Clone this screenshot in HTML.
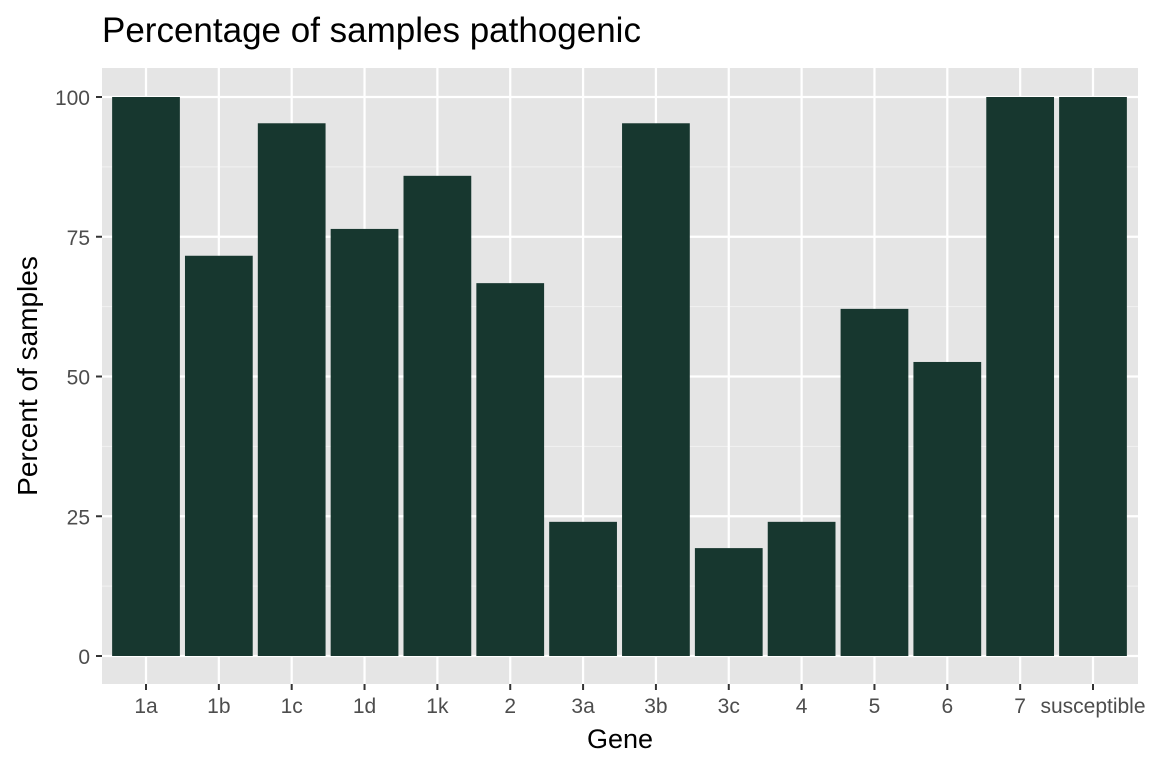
<!DOCTYPE html>
<html><head><meta charset="utf-8"><style>
body{margin:0;background:#fff;}
svg text{font-family:"Liberation Sans",Arial,sans-serif;}
</style></head><body>
<svg id="c" width="1152" height="768" xmlns="http://www.w3.org/2000/svg"></svg>
<script>
const categories=["1a","1b","1c","1d","1k","2","3a","3b","3c","4","5","6","7","susceptible"];
const values=[100,71.6,95.3,76.4,85.9,66.7,24,95.3,19.3,24,62.1,52.6,100,100];
const yTicks=[0,25,50,75,100];
const NS="http://www.w3.org/2000/svg";
const svg=document.getElementById('c');
const pl=102,pr=1138,pt=68,pb=684;
const y=v=>656-v*(656-97)/100;
const step=(1093-146)/13;
const x=i=>146+i*step;
function mk(t,a,p){const e=document.createElementNS(NS,t);for(const k in a)e.setAttribute(k,a[k]);(p||svg).appendChild(e);return e;}
const panel=mk('rect',{x:pl,y:pt,width:pr-pl,height:pb-pt,fill:'#e5e5e5'});


for(let k=0;k<yTicks.length-1;k++){const m=(yTicks[k]+yTicks[k+1])/2;
 const l=mk('line',{x1:pl,x2:pr,y1:y(m),y2:y(m),stroke:'#f2f2f2','stroke-width':1});
 
 }
yTicks.forEach(v=>{const l=mk('line',{x1:pl,x2:pr,y1:y(v),y2:y(v),stroke:'#fff','stroke-width':2.2});
 
 
 const tk=mk('line',{x1:pl-6,x2:pl,y1:y(v),y2:y(v),stroke:'#333','stroke-width':2});
 
 
 const t=mk('text',{x:pl-12,y:y(v)+8,'text-anchor':'end','font-size':21,fill:'#4d4d4d'});t.textContent=v;
 
 });
categories.forEach((c,i)=>{const l=mk('line',{x1:x(i),x2:x(i),y1:pt,y2:pb,stroke:'#fff','stroke-width':2.2});
 
 });
const bw=step*0.93;
categories.forEach((c,i)=>{
 const b=mk('rect',{x:x(i)-bw/2,y:y(values[i]),width:bw,height:y(0)-y(values[i]),fill:'#17372f'});
 
 
 const tk=mk('line',{x1:x(i),x2:x(i),y1:pb,y2:pb+6,stroke:'#333','stroke-width':2});
 
 
 const t=mk('text',{x:x(i),y:713,'text-anchor':'middle','font-size':21,fill:'#4d4d4d'});t.textContent=c;
 
 });
const tt=mk('text',{x:102,y:42,'font-size':35,fill:'#000'});tt.textContent='Percentage of samples pathogenic';


const xt=mk('text',{x:(pl+pr)/2,y:748,'text-anchor':'middle','font-size':27,fill:'#000'});xt.textContent='Gene';


const yt=mk('text',{x:0,y:0,'text-anchor':'middle','font-size':28,fill:'#000',transform:`translate(37,${(pt+pb)/2}) rotate(-90)`});yt.textContent='Percent of samples';


</script>
</body></html>
